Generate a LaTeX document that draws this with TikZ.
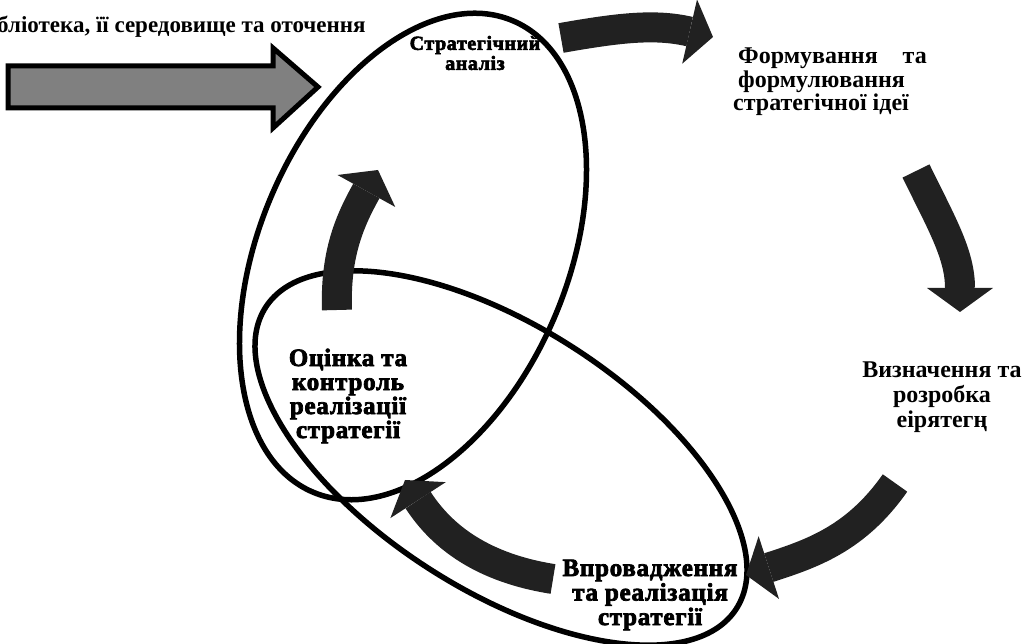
\documentclass[tikz,border=0pt]{standalone}
\usepackage{fontspec}
\setmainfont{Liberation Serif}
\newfontfamily\heavyfont[LetterSpace=3,BoldFeatures={FakeBold=3}]{Liberation Serif}
\usetikzlibrary{arrows.meta,shapes.geometric}
\begin{document}
\begin{tikzpicture}[x=1pt,y=1pt,
  ring/.style={draw=black, line width=5.5pt, ellipse, inner sep=0pt, outer sep=0pt},
  flow/.style={draw=black!87, line width=30pt, line cap=butt,
    -{Triangle[length=24pt,width=66pt,line width=0pt]}},
  inarrow/.style={draw=black, line width=5pt, fill=black!50, line join=miter},
  lbl/.style={font=\bfseries\fontsize{24}{23.5}\selectfont, inner sep=0pt, align=center},
  heavy/.style={font=\heavyfont\bfseries\fontsize{25}{24}\selectfont, inner sep=0pt, align=center},
]
\useasboundingbox (0,0) rectangle (1026,644);

% ellipses
\node[ring, minimum width=512pt, minimum height=308pt, rotate=67] (ellA) at (413,387.5) {};
\node[ring, minimum width=559pt, minimum height=264pt, rotate=-32.6] (ellB) at (501,186) {};

% input arrow
\draw[inarrow] (8,578) -- (273,578) -- (273,596) -- (318,557) -- (273,516) -- (273,536) -- (8,536) -- cycle;

% texts
\node[lbl, font=\bfseries\fontsize{23}{24}\selectfont, anchor=west] (env) at (-3,617) {бліотека, її середовище та оточення};
\node[heavy, font=\heavyfont\bfseries\fontsize{20}{20}\selectfont] (strat) at (475,591) {Стратегічний\\аналіз};
\node[lbl, align=left, anchor=west] (form) at (733,562) {\hspace{5pt}Формування\hspace{25pt}та\\\hspace{5pt}формулювання\\стратегічної ідеї};
\node[lbl, font=\bfseries\fontsize{24}{25}\selectfont] (vyzn) at (942,247) {Визначення та\\розробка\\еірятегң};
\node[heavy] (ots) at (348,248) {Оцінка та\\контроль\\реалізації\\стратегії};
\node[heavy, font=\heavyfont\bfseries\fontsize{25}{24.5}\selectfont] (vpr) at (650,49) {Впровадження\\та реалізація\\стратегії};

% curved arrows
\coordinate (t1) at (561,606); \coordinate (h1) at (713,607);
\coordinate (t2) at (916,473); \coordinate (h2) at (960,332);
\coordinate (t3) at (895,161); \coordinate (h3) at (746,69);
\coordinate (t4) at (553,65);  \coordinate (h4) at (405,164);
\coordinate (t5) at (337,334); \coordinate (h5) at (378,474);
\draw[flow] (t1) to[out=10,in=167] (h1);
\draw[flow] (t2) to[out=-64,in=90] (h2);
\draw[flow] (t3) to[out=235,in=18] (h3);
\draw[flow] (t4) to[out=171,in=303] (h4);
\draw[flow] (t5) to[out=92,in=241] (h5);
\end{tikzpicture}
\end{document}
